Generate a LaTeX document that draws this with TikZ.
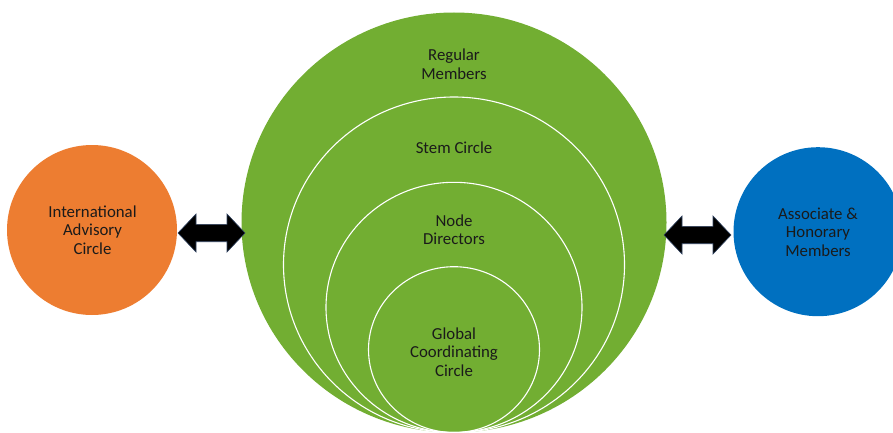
\documentclass[tikz,border=0pt]{standalone}
\usepackage{fontspec}
\setmainfont{Carlito}
\usetikzlibrary{shapes.geometric}
\definecolor{grn}{HTML}{72AE32}
\definecolor{org}{HTML}{ED7D31}
\definecolor{blu}{HTML}{0070C0}
\definecolor{txt}{HTML}{1A1A1A}
\definecolor{arrline}{HTML}{2F4260}
\tikzset{
  lbl/.style={text=txt, align=center, font=\fontsize{16.8}{18.5}\selectfont},
  ring/.style={ellipse, draw=white, line width=1.1pt, inner sep=0pt},
  side/.style={circle, inner sep=0pt, minimum size=170pt},
  darrow/.pic={
    \fill[black, draw=arrline, line width=0.6pt]
      (0,0) -- (18,19) -- (18,8.7) -- (49,8.7) -- (49,19) -- (67,0)
      -- (49,-19) -- (49,-8.7) -- (18,-8.7) -- (18,-19) -- cycle;
  }
}
\begin{document}
\begin{tikzpicture}[x=1pt, y=-1pt]
\useasboundingbox (0,0) rectangle (893,433);
\clip (0,0) rectangle (893,433);
% big green circle and rings
\node[ellipse, fill=grn, inner sep=0pt, minimum width=425pt, minimum height=420pt] (reg) at (454,222.5) {};
\node[ring, minimum width=341pt, minimum height=335.5pt] (stem) at (454,264.75) {};
\node[ring, minimum width=256pt, minimum height=250.2pt] (nd) at (454,307.4) {};
\node[ring, minimum width=171pt, minimum height=165.8pt] (gcc) at (454,349.6) {};
\node[lbl] (tReg) at (454,64) {Regular\\Members};
\node[lbl] (tStem) at (454,148) {Stem Circle};
\node[lbl] (tNd) at (454,229.5) {Node\\Directors};
\node[lbl] (tGcc) at (454,352) {Global\\Coordinating\\Circle};
% side circles
\node[side, fill=org] (iac) at (92,230) {};
\node[lbl] (tIac) at (92.5,230) {International\\Advisory\\Circle};
\node[side, fill=blu, minimum size=169pt] (ahm) at (818,231.7) {};
\node[lbl] (tAhm) at (818,232) {Associate \&\\Honorary\\Members};
% block arrows
\pic at (178,233) {darrow};
\pic at (664,235) {darrow};
\end{tikzpicture}
\end{document}
